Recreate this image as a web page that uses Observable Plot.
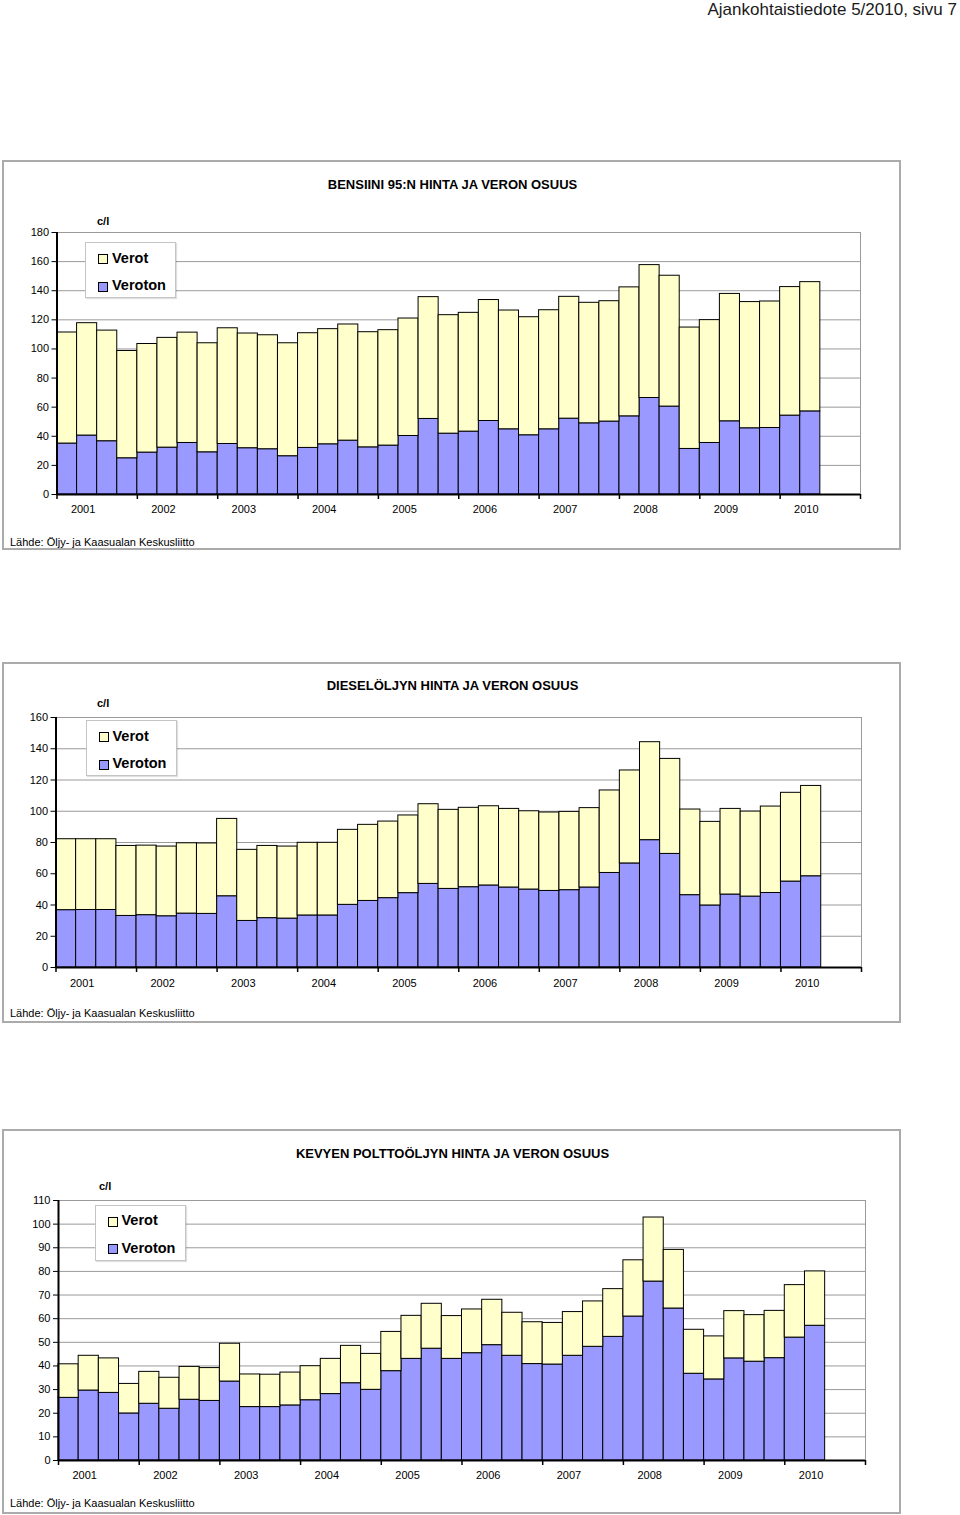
<!DOCTYPE html>
<html><head><meta charset="utf-8">
<script src="https://cdn.jsdelivr.net/npm/d3@7"></script>
<script src="https://cdn.jsdelivr.net/npm/@observablehq/plot@0.6"></script>
<style>
body{margin:0;background:#fff;font-family:"Liberation Sans",Arial,sans-serif;color:#000;}
#page{position:relative;width:960px;height:1515px;overflow:hidden;background:#fff;}
.abs{position:absolute;white-space:nowrap;line-height:1;}
.frame{position:absolute;left:2px;width:899px;border:2px solid #ababab;box-sizing:border-box;}
.title{font-weight:bold;font-size:13px;transform:translateX(-50%);left:452.5px;}
.unit{font-weight:bold;font-size:11px;}
.src{font-size:11px;left:10px;}
.legend{position:absolute;width:91px;height:56px;background:#fff;border:1px solid #c4c4c4;box-sizing:border-box;box-shadow:1px 1px 1px rgba(0,0,0,0.12);}
.legend .sw{position:absolute;left:12px;width:10px;height:10px;border:1px solid #000;box-sizing:border-box;}
.legend .lt{position:absolute;left:26px;font-size:14.5px;font-weight:bold;line-height:1;white-space:nowrap;}
.plotbox{position:absolute;left:0;}
</style>
</head><body>
<div id="page"></div>
<script>
// ---- data ----
const years = [2001, 2002, 2003, 2004, 2005, 2006, 2007, 2008, 2009, 2010];
const seriesNames = ["Verot", "Veroton"];
const headerText = "Ajankohtaistiedote 5/2010, sivu 7";
const sourceText = "Lähde: Öljy- ja Kaasualan Keskusliitto";
const unitText = "c/l";
const titles = ["BENSIINI 95:N HINTA JA VERON OSUUS", "DIESELÖLJYN HINTA JA VERON OSUUS", "KEVYEN POLTTOÖLJYN HINTA JA VERON OSUUS"];

// quarterly values 2001 Q1 .. 2010 Q2 (c/l): total price and tax-free part
const bensiiniTotal = [111.3,117.7,112.6,98.6,103.4,107.6,111.2,103.9,114.2,110.6,109.4,103.9,110.8,113.6,116.8,111.5,112.9,120.9,135.6,123.2,124.8,133.6,126.4,121.8,126.6,135.8,131.7,132.8,142.3,157.6,150.3,114.7,119.8,137.8,132.2,132.6,142.5,145.9];
const bensiiniVeroton = [35.0,40.5,36.6,24.9,28.8,32.2,35.4,29.0,34.7,31.8,31.1,26.3,32.0,34.5,37.0,32.4,33.6,40.2,51.9,41.8,43.2,50.5,44.8,40.7,44.8,52.1,48.9,50.1,53.7,66.3,60.4,31.3,35.4,50.3,45.5,45.7,54.2,57.1];
const dieselTotal = [82.1,82.1,82.1,77.8,78.0,77.4,79.5,79.4,95.1,75.3,77.8,77.4,79.8,79.8,88.1,91.3,93.4,97.3,104.5,100.9,102.2,103.2,101.5,100.0,99.2,99.6,102.0,113.3,126.1,144.2,133.5,101.1,93.2,101.5,99.8,103.0,111.8,116.2];
const dieselVeroton = [36.7,36.8,36.8,33.0,33.5,32.8,34.5,34.3,45.6,29.8,31.6,31.3,33.3,33.3,40.1,42.6,44.4,47.6,53.5,50.3,51.4,52.5,51.2,49.9,49.0,49.5,51.2,60.5,66.6,81.5,72.7,46.3,39.7,46.7,45.4,47.7,55.0,58.4];
const kevytTotal = [40.7,44.3,43.2,32.4,37.5,35.0,39.6,39.1,49.4,36.4,36.3,37.2,39.9,43.0,48.5,45.1,54.4,61.2,66.3,61.1,63.9,68.0,62.5,58.5,58.2,62.8,67.3,72.5,84.7,102.8,89.1,55.3,52.5,63.2,61.5,63.3,74.2,80.0];
const kevytVeroton = [26.5,29.6,28.6,19.9,24.0,21.9,25.7,25.2,33.4,22.6,22.6,23.3,25.5,28.1,32.7,29.9,37.8,43.0,47.3,43.0,45.4,48.8,44.3,40.8,40.6,44.3,48.1,52.3,60.9,75.7,64.3,36.7,34.3,43.2,41.8,43.3,52.0,57.0];

const yTicks1 = [0,20,40,60,80,100,120,140,160,180];
const yTicks2 = [0,20,40,60,80,100,120,140,160];
const yTicks3 = [0,10,20,30,40,50,60,70,80,90,100,110];

const colVerot = "#ffffcc";
const colVeroton = "#9999ff";

const page = document.getElementById("page");

function el(cls, text, style) {
  const d = document.createElement("div");
  d.className = cls;
  if (text != null) d.textContent = text;
  Object.assign(d.style, style || {});
  page.appendChild(d);
  return d;
}

function makeChart(total, veroton, yTicks, L) {
  const data = total.map((t, i) => ({i, t, v: veroton[i]}));
  const nq = years.length * 4;
  const bounds = d3.range(0, nq + 1, 4);
  const labelPos = years.map((y, k) => k * 4 + 1.3);
  const yMax = yTicks[yTicks.length - 1];
  const svg = Plot.plot({
    width: 900, height: L.h,
    marginLeft: L.ml, marginRight: L.mr, marginTop: L.mt, marginBottom: L.mb,
    style: {fontFamily: "'Liberation Sans', Arial, sans-serif", fontSize: "11px", background: "transparent", color: "#000", overflow: "visible"},
    x: {domain: [0, nq], axis: null, label: null},
    y: {domain: [0, yMax], axis: null, label: null},
    marks: [
      Plot.gridY(yTicks, {stroke: "#9a9a9a", strokeOpacity: 1, strokeWidth: 1}),
      Plot.ruleX([nq], {stroke: "#9a9a9a", strokeWidth: 1}),
      Plot.rect(data, {x1: "i", x2: d => d.i + 1, y1: d => 0, y2: "v", fill: colVeroton, stroke: "#000", strokeWidth: 1, inset: 0}),
      Plot.rect(data, {x1: "i", x2: d => d.i + 1, y1: "v", y2: "t", fill: colVerot, stroke: "#000", strokeWidth: 1, inset: 0}),
      Plot.axisY(yTicks, {tickSize: 5, tickPadding: 3, stroke: "#000", strokeWidth: 1, fontSize: 11, label: null}),
      Plot.ruleX([0], {stroke: "#000", strokeWidth: 2}),
      Plot.ruleY([0], {stroke: "#000", strokeWidth: 2}),
      Plot.axisX(bounds, {tickSize: 5, tickFormat: () => "", stroke: "#000", strokeWidth: 1.5, label: null}),
      Plot.axisX(labelPos, {tickSize: 0, tickPadding: L.xpad, tickFormat: (p, k) => String(years[k]), fontSize: 11, label: null})
    ]
  });
  const box = el("plotbox", null, {top: L.top + "px"});
  box.appendChild(svg);
}

function legend(left, top) {
  const g = el("legend", null, {left: left + "px", top: top + "px"});
  const items = [[colVerot, seriesNames[0], 11, 9.5], [colVeroton, seriesNames[1], 38.5, 37]];
  for (const [c, name, sy, ty] of items) {
    const s = document.createElement("div"); s.className = "sw";
    s.style.top = sy + "px"; s.style.background = c; g.appendChild(s);
    const t = document.createElement("div"); t.className = "lt";
    t.style.top = (ty - 1.9) + "px"; t.textContent = name; g.appendChild(t);
  }
}

// header
el("abs", headerText, {right: "3px", top: "0.8px", fontSize: "17px", color: "#1a1a1a"});

// chart 1
makeChart(bensiiniTotal, bensiiniVeroton, yTicks1, {top: 220, h: 300, ml: 56.5, mr: 40, mt: 12, mb: 26, xpad: 11});
el("frame", null, {top: "160px", height: "390px"});
el("abs title", titles[0], {top: "178.3px"});
el("abs unit", unitText, {left: "97px", top: "215.6px"});
legend(85, 242);
el("abs src", sourceText, {top: "536.9px"});

// chart 2
makeChart(dieselTotal, dieselVeroton, yTicks2, {top: 705, h: 290, ml: 55.5, mr: 39, mt: 12, mb: 28, xpad: 12});
el("frame", null, {top: "662px", height: "361px"});
el("abs title", titles[1], {top: "679px"});
el("abs unit", unitText, {left: "97px", top: "698px"});
legend(85.5, 720);
el("abs src", sourceText, {top: "1007.9px"});

// chart 3
makeChart(kevytTotal, kevytVeroton, yTicks3, {top: 1188, h: 300, ml: 58, mr: 35, mt: 12, mb: 28, xpad: 11});
el("frame", null, {top: "1129px", height: "385px"});
el("abs title", titles[2], {top: "1146.6px"});
el("abs unit", unitText, {left: "99px", top: "1181px"});
legend(94.5, 1204.5);
el("abs src", sourceText, {top: "1497.6px"});
</script>
</body></html>
